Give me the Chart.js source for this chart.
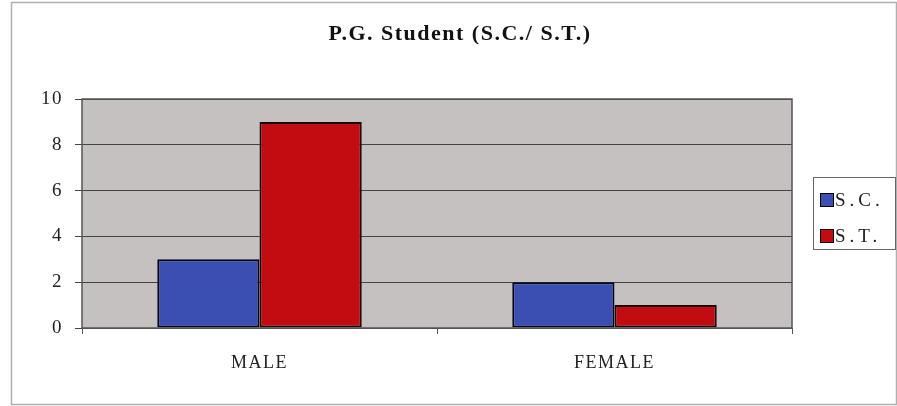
<!DOCTYPE html>
<html>
<head>
<meta charset="utf-8">
<script src="https://cdn.jsdelivr.net/npm/chart.js@4"></script>
<style>
  html, body { margin: 0; padding: 0; background: #fff; }
  #wrap { width: 897px; height: 406px; position: relative; }
</style>
</head>
<body>
<div id="wrap"><canvas id="chart" width="897" height="406"></canvas></div>
<script>
var categories = ["MALE", "FEMALE"];
var seriesNames = ["S.C.", "S.T."];
var scValues = [3, 2];
var stValues = [9, 1];
var yTicks = [0, 2, 4, 6, 8, 10];

var serif = "'Liberation Serif', 'DejaVu Serif', serif";

// plot background, frame and outer border
var frame = {
  id: 'frame',
  beforeDraw: function(chart) {
    var ctx = chart.ctx, a = chart.chartArea;
    ctx.save();
    ctx.fillStyle = '#fff';
    ctx.fillRect(0, 0, chart.width, chart.height);
    ctx.strokeStyle = '#b0b0b0';
    ctx.lineWidth = 1.5;
    ctx.strokeRect(11.5, 2.5, chart.width - 12, chart.height - 4);
    ctx.fillStyle = '#c5c1c0';
    ctx.fillRect(a.left, a.top, a.right - a.left, a.bottom - a.top);
    ctx.restore();
    ctx.letterSpacing = '1.5px';
  },
  afterDatasetsDraw: function(chart) {
    var ctx = chart.ctx, a = chart.chartArea;
    ctx.save();
    ctx.strokeStyle = '#555';
    ctx.lineWidth = 1.5;
    ctx.strokeRect(a.left, a.top, a.right - a.left, a.bottom - a.top);
    ctx.restore();
  }
};

// title and legend box
var legendBox = {
  id: 'legendBox',
  afterDraw: function(chart) {
    var ctx = chart.ctx;
    ctx.save();
    ctx.fillStyle = '#111';
    ctx.letterSpacing = '1.5px';
    ctx.font = "bold 22px " + serif;
    ctx.textAlign = 'center';
    ctx.textBaseline = 'middle';
    ctx.fillText("P.G. Student (S.C./ S.T.)", 460, 34);

    ctx.strokeStyle = '#666';
    ctx.lineWidth = 1;
    ctx.strokeRect(813.5, 177.5, 82, 72);
    ctx.font = "19px " + serif;
    ctx.textAlign = 'left';
    ctx.letterSpacing = '4px';
    chart.data.datasets.forEach(function(ds, i) {
      var y = 200 + i * 36;
      ctx.fillStyle = ds.backgroundColor;
      ctx.fillRect(820, y - 7, 14, 14);
      ctx.strokeStyle = '#000';
      ctx.strokeRect(820.5, y - 6.5, 13, 13);
      ctx.fillStyle = '#222';
      ctx.fillText(ds.label, 835, y + 1);
    });
    ctx.restore();
  }
};

new Chart('chart', {
  type: 'bar',
  data: {
    labels: categories,
    datasets: [
      {
        label: seriesNames[0],
        data: scValues,
        backgroundColor: '#3b4fb3',
        borderColor: '#05051a',
        borderWidth: 2
      },
      {
        label: seriesNames[1],
        data: stValues,
        backgroundColor: '#c30c12',
        borderColor: '#1a0303',
        borderWidth: 2
      }
    ]
  },
  options: {
    responsive: false,
    animation: false,
    layout: { padding: { top: 99, right: 105, left: 0, bottom: 0 } },
    datasets: {
      bar: { barPercentage: 1, categoryPercentage: 0.576, borderSkipped: false }
    },
    plugins: {
      legend: { display: false },
      title: { display: false },
      tooltip: { enabled: false }
    },
    scales: {
      x: {
        grid: { drawOnChartArea: false, drawTicks: true, tickLength: 6, color: '#555' },
        border: { display: false },
        ticks: { color: '#222', padding: 18, font: { family: serif, size: 18 } },
        afterFit: function(s) { s.height = 78; }
      },
      y: {
        min: 0,
        max: 10,
        afterBuildTicks: function(s) { s.ticks = yTicks.map(function(v) { return { value: v }; }); },
        grid: { color: '#444', lineWidth: 1, tickLength: 7 },
        border: { display: false },
        ticks: { color: '#222', padding: 12, font: { family: serif, size: 19 } },
        afterFit: function(s) { s.width = 82; }
      }
    }
  },
  plugins: [frame, legendBox]
});
</script>
</body>
</html>
